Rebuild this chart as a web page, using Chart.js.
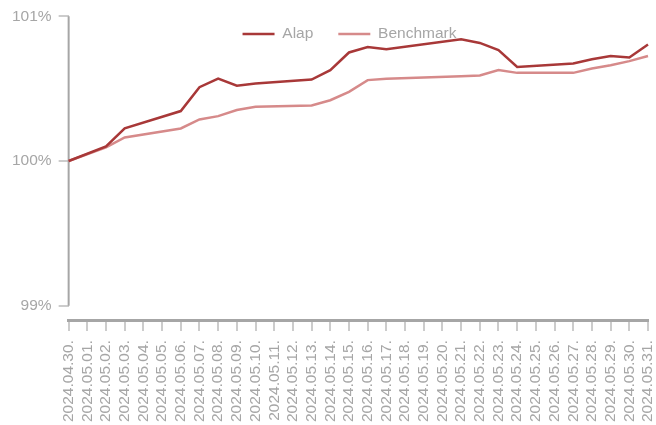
<!DOCTYPE html>
<html>
<head>
<meta charset="utf-8">
<script src="https://cdn.jsdelivr.net/npm/chart.js@4"></script>
<style>
  body { margin: 0; background: #fff; }
  #wrap { width: 656px; height: 425px; }
</style>
</head>
<body>
<div id="wrap"><canvas id="perf-chart"></canvas></div>
<script>
// x axis dates
let dateLabels = ['2024.04.30.', '2024.05.01.', '2024.05.02.', '2024.05.03.', '2024.05.04.', '2024.05.05.',
    '2024.05.06.', '2024.05.07.', '2024.05.08.', '2024.05.09.', '2024.05.10.', '2024.05.11.', '2024.05.12.',
    '2024.05.13.', '2024.05.14.', '2024.05.15.', '2024.05.16.', '2024.05.17.', '2024.05.18.', '2024.05.19.',
    '2024.05.20.', '2024.05.21.', '2024.05.22.', '2024.05.23.', '2024.05.24.', '2024.05.25.', '2024.05.26.',
    '2024.05.27.', '2024.05.28.', '2024.05.29.', '2024.05.30.', '2024.05.31.'];

// null = no trading that day, the line just spans over it
let alapValues = [100.00, null, 100.10, 100.225, null, null, 100.345, 100.51, 100.57, 100.52, 100.535, null, null,
    100.563, 100.628, 100.75, 100.788, 100.772, null, null, null, 100.841, 100.816, 100.766, 100.65, null, null,
    100.674, 100.703, 100.726, 100.715, 100.805];
let benchmarkValues = [100.00, null, 100.094, 100.163, null, null, 100.225, 100.287, 100.31, 100.352, 100.375, null, null,
    100.384, 100.42, 100.478, 100.559, 100.568, null, null, null, 100.586, 100.591, 100.628, 100.609, null, null,
    100.609, 100.639, 100.662, 100.69, 100.726];

let yTickValues = [99, 100, 101];

let labelFont = { family: '"Liberation Sans", Arial, sans-serif', size: 15.5 };
let labelColor = '#a6a6a6';

let chartTweaks = {
    id: 'chartTweaks',
    beforeUpdate(chart) {
        // the legend floats over the top of the plot instead of taking its own row
        let legend = chart.legend;
        if (legend && !legend.overlayPatched) {
            let fit = legend.fit;
            let draw = legend.draw;
            legend.fit = function () {
                fit.call(this);
                this.fullHeight = this.height;
                this.height = 0;
            };
            legend.draw = function () {
                let h = this.height;
                this.height = this.fullHeight;
                this.bottom = this.top + this.fullHeight;
                this.ctx.save();
                this.ctx.translate(19, -15);
                draw.call(this);
                this.ctx.restore();
                this.height = h;
                this.bottom = this.top + h;
            };
            legend.overlayPatched = true;
        }
    },
    // the y axis line only runs between the lowest and highest tick
    beforeDatasetsDraw(chart) {
        let ctx = chart.ctx;
        let y = chart.scales.y;
        let x = chart.chartArea.left;
        ctx.save();
        ctx.strokeStyle = '#a6a6a6';
        ctx.lineWidth = 2;
        ctx.beginPath();
        ctx.moveTo(x, y.getPixelForValue(yTickValues[yTickValues.length - 1]));
        ctx.lineTo(x, y.getPixelForValue(yTickValues[0]));
        ctx.stroke();
        ctx.restore();
    }
};

let perfChart = new Chart(document.querySelector('#perf-chart').getContext('2d'), {
    type: 'line',
    data: {
        labels: dateLabels,
        datasets: [{
            label: 'Alap',
            data: alapValues,
            borderColor: '#a83838',
            backgroundColor: '#a83838',
            borderWidth: 2.5,
            pointRadius: 0,
            spanGaps: true,
        }, {
            label: 'Benchmark',
            data: benchmarkValues,
            borderColor: '#d68a8a',
            backgroundColor: '#d68a8a',
            borderWidth: 2.5,
            pointRadius: 0,
            spanGaps: true,
        }]
    },
    options: {
        responsive: true,
        maintainAspectRatio: false,
        animation: false,
        layout: {
            padding: { top: 16, right: 0, left: 5, bottom: -6 }
        },
        plugins: {
            legend: {
                position: 'top',
                align: 'center',
                labels: {
                    usePointStyle: true,
                    pointStyle: 'line',
                    pointStyleWidth: 32,
                    color: labelColor,
                    font: labelFont,
                    padding: 25,
                }
            },
            tooltip: { enabled: false },
        },
        scales: {
            x: {
                afterFit(scale) {
                    scale.paddingLeft = 0;
                    scale.paddingRight = 8;
                },
                grid: { drawOnChartArea: false, tickLength: 11, color: '#cccccc', lineWidth: 2 },
                border: { color: '#a6a6a6', width: 3 },
                ticks: {
                    autoSkip: false,
                    minRotation: 90,
                    maxRotation: 90,
                    color: labelColor,
                    font: labelFont,
                    padding: 9,
                }
            },
            y: {
                min: 98.9,
                max: 101,
                afterBuildTicks(scale) {
                    scale.ticks = yTickValues.map(v => ({ value: v }));
                },
                grid: { drawOnChartArea: false, tickLength: 10, color: '#cccccc', lineWidth: 2 },
                border: { display: false },
                ticks: {
                    color: labelColor,
                    font: labelFont,
                    padding: 7,
                    callback: v => v + '%',
                }
            }
        }
    },
    plugins: [chartTweaks]
});
</script>
</body>
</html>
